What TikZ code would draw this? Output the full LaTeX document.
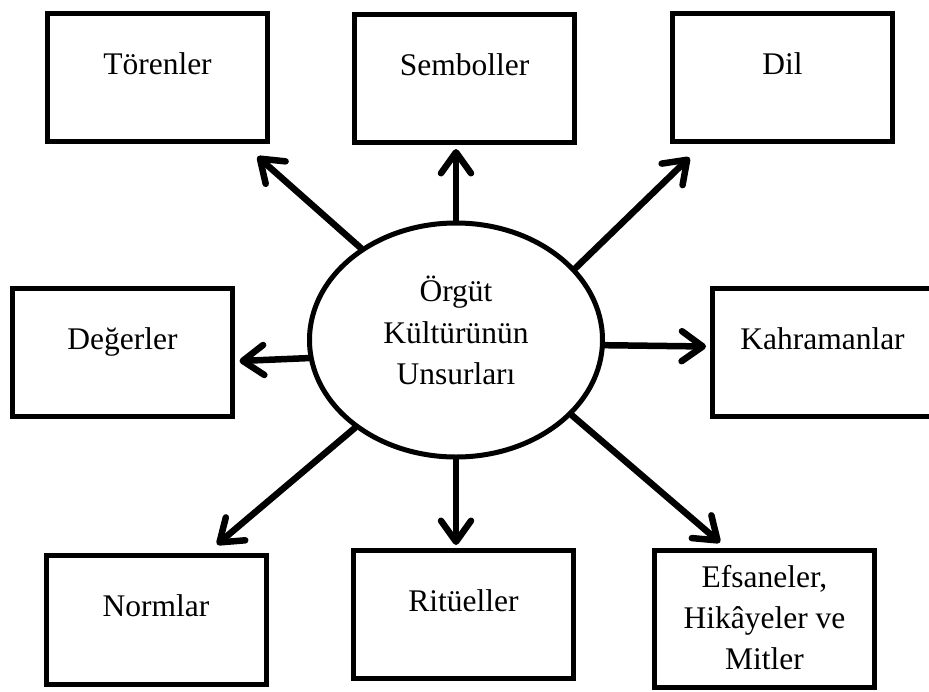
\documentclass[tikz,border=0pt]{standalone}
\usepackage{fontspec}
\setmainfont{Liberation Serif}
\usetikzlibrary{arrows.meta,shapes.geometric}
\begin{document}
\begin{tikzpicture}[x=1pt,y=-1pt,
  lbl/.style={font=\fontsize{31.5}{41.5}\selectfont},
  box/.style={lbl, draw, line width=5pt, rectangle, minimum width=220pt,
    minimum height=128pt, inner sep=0pt, text height=24pt, text depth=31pt},
  arr/.style={line width=6.5pt, line cap=round,
    -{Straight Barb[length=21pt,width=30pt,round]}},
]
\fill[white] (0,0) rectangle (929,691);
\useasboundingbox (0,0) rectangle (929,691);

\node[box] (tor) at (157.5,77.5) {Törenler};
\node[box] (sem) at (464.5,78.5) {Semboller};
\node[box] (dil) at (782.5,77.5) {Dil};
\node[box] (deg) at (122.5,352.5) {Değerler};
\node[box] (kah) at (822.5,352.5) {Kahramanlar};
\node[box, minimum height=129pt] (nor) at (156,620) {Normlar};
\node[box] (rit) at (463.5,614.5) {Ritüeller};
\node[box, minimum height=137pt, align=center, text height={}, text depth={}, font=\fontsize{31.5}{41}\selectfont] (efs) at (764.5,619) {Efsaneler,\\Hikâyeler ve\\Mitler\rule[-4pt]{0pt}{4pt}};

\node[lbl, draw, ellipse, line width=5pt, minimum width=293pt, minimum height=234pt,
  inner sep=0pt, align=center] (c) at (456,340) {Örgüt\\Kültürünün\\Unsurları\rule[-19pt]{0pt}{19pt}};

\draw[arr] (c.136.8) -- ([shift={(-12.5,12.5)}]tor.south east);
\draw[arr, shorten >=4pt] (c.north) -- (c.north |- sem.south);
\draw[arr] (c.31.1) -- ([shift={(19.5,13.5)}]dil.south west);
\draw[arr] (c.187.6) -- ([shift={(4.5,8.5)}]deg.east);
\draw[arr] (c.-2.7) -- ([shift={(-4,-6)}]kah.west);
\draw[arr] (c.221.9) -- ([shift={(61,-8.5)}]nor.north);
\draw[arr, shorten >=3pt] (c.south) -- (c.south |- rit.north);
\draw[arr] (c.-33.5) -- ([shift={(-44.5,-5.5)}]efs.north);
\end{tikzpicture}
\end{document}
